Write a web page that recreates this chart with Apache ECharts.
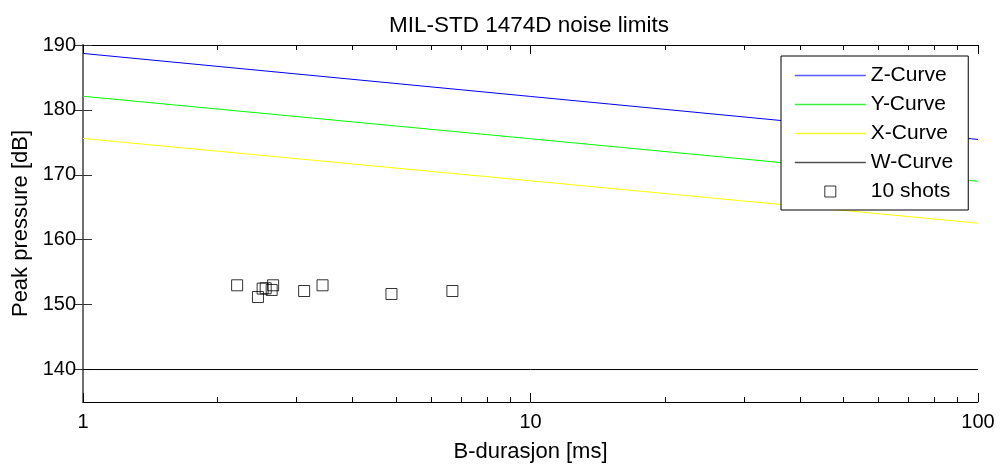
<!DOCTYPE html>
<html>
<head>
<meta charset="utf-8">
<script src="https://cdn.jsdelivr.net/npm/echarts@6/dist/echarts.min.js"></script>
<style>
html,body{margin:0;padding:0;background:#fff;}
#chart{width:1003px;height:468px;}
</style>
</head>
<body>
<div id="chart"></div>
<script>
// ---- data ----
const titleText = 'MIL-STD 1474D noise limits';
const xAxisName = 'B-durasjon [ms]';
const yAxisName = 'Peak pressure [dB]';
const curveNames = ['Z-Curve', 'Y-Curve', 'X-Curve', 'W-Curve'];
const shotsName = '10 shots';
const curveDur = [1, 100];
const zCurve = [188.7, 175.45];
const yCurve = [182.1, 169.0];
const xCurve = [175.6, 162.55];
const wCurve = [140, 140];
const shotsDur = [2.21, 2.46, 2.52, 2.56, 2.64, 2.66, 3.12, 3.43, 4.89, 6.69];
const shotsPeak = [152.98, 151.17, 152.47, 152.52, 152.26, 152.98, 152.10, 152.98, 151.64, 152.10];
const xMajorTicks = [1, 10, 100];
const xMinorTicks = [2, 3, 4, 5, 6, 7, 8, 9, 20, 30, 40, 50, 60, 70, 80, 90];
const yTicks = [140, 150, 160, 170, 180, 190];

// ---- chart ----
const FONT = 'Liberation Sans, Arial, Helvetica, sans-serif';
const curveColors = ['#0000ff', '#00ff00', '#ffff00', '#000000'];
const legendLineColors = ['#5a5aff', '#3cf03c', '#f5f530', '#505050'];
const curveValues = [zCurve, yCurve, xCurve, wCurve];
const pair = (xs, ys) => xs.map((x, i) => [x, ys[i]]);
const minorLog = xMinorTicks.map(v => Math.log10(v));

const chart = echarts.init(document.getElementById('chart'), null, {renderer: 'canvas'});

const series = curveNames.map((n, i) => ({
  name: n,
  type: 'line',
  xAxisIndex: 0,
  yAxisIndex: 0,
  data: pair(curveDur, curveValues[i]),
  symbol: 'none',
  lineStyle: {color: curveColors[i], width: 1},
  itemStyle: {color: curveColors[i]},
  animation: false,
  silent: true
}));
series.push({
  name: shotsName,
  type: 'scatter',
  xAxisIndex: 0,
  yAxisIndex: 0,
  data: pair(shotsDur, shotsPeak),
  symbol: 'rect',
  symbolSize: 11,
  itemStyle: {color: 'rgba(0,0,0,0)', borderColor: '#000', borderWidth: 1},
  animation: false,
  silent: true
});

const squareIcon = 'path://M0,0h10v10h-10z';
const legendData = curveNames.map((n, i) => ({
  name: n,
  itemStyle: {opacity: 0},
  lineStyle: {color: legendLineColors[i], width: 1.6}
}));
legendData.push({
  name: shotsName,
  icon: squareIcon,
  itemStyle: {color: 'rgba(0,0,0,0)', borderColor: '#000', borderWidth: 1}
});

const logAxisBase = {
  type: 'log',
  min: 1,
  max: 100,
  gridIndex: 0,
  splitLine: {show: false},
  axisLine: {show: true, lineStyle: {color: '#000', width: 1}},
  axisTick: {show: true, inside: true, length: 9, lineStyle: {color: '#000'}}
};
const minorAxisBase = {
  type: 'value',
  min: 0,
  max: 2,
  gridIndex: 0,
  splitLine: {show: false},
  axisLine: {show: false},
  axisLabel: {show: false},
  axisTick: {show: true, inside: true, length: 5, customValues: minorLog, lineStyle: {color: '#000'}}
};

const option = {
  backgroundColor: '#fff',
  animation: false,
  title: {
    text: titleText,
    left: 524,
    textAlign: 'center',
    top: 9,
    textStyle: {fontFamily: FONT, fontSize: 22.5, fontWeight: 'normal', color: '#000'}
  },
  legend: {
    orient: 'vertical',
    left: 781,
    top: 56,
    padding: [9, 15, 8, 13],
    itemWidth: 71,
    itemHeight: 11,
    itemGap: 8,
    backgroundColor: '#fff',
    borderColor: '#000',
    borderWidth: 1,
    selectedMode: false,
    data: legendData,
    textStyle: {fontFamily: FONT, fontSize: 21, lineHeight: 20, color: '#000'}
  },
  grid: {left: 83, top: 45, width: 895, height: 358, containLabel: false},
  xAxis: [
    Object.assign({}, logAxisBase, {
      position: 'bottom',
      name: xAxisName,
      nameLocation: 'middle',
      nameGap: 39,
      nameTextStyle: {fontFamily: FONT, fontSize: 22, color: '#000'},
      axisLabel: {show: true, margin: 10, fontFamily: FONT, fontSize: 20, color: '#000',
        formatter: v => String(v)}
    }),
    Object.assign({}, minorAxisBase, {position: 'bottom'}),
    Object.assign({}, logAxisBase, {position: 'top', axisLabel: {show: false}}),
    Object.assign({}, minorAxisBase, {position: 'top'})
  ],
  yAxis: [
    {
      type: 'value',
      position: 'left',
      min: 135,
      max: 190,
      splitLine: {show: false},
      axisLine: {show: true, lineStyle: {color: '#707070', width: 2}},
      axisTick: {show: true, inside: true, length: 9, customValues: yTicks, lineStyle: {color: '#333'}},
      axisLabel: {show: true, customValues: yTicks, margin: 7, fontFamily: FONT, fontSize: 20, color: '#000'},
      name: yAxisName,
      nameLocation: 'middle',
      nameGap: 50,
      nameTextStyle: {fontFamily: FONT, fontSize: 22, color: '#000'}
    },
    {
      type: 'value',
      position: 'right',
      min: 135,
      max: 190,
      splitLine: {show: false},
      axisLine: {show: true, lineStyle: {color: '#707070', width: 2}},
      axisTick: {show: true, inside: true, length: 9, customValues: yTicks, lineStyle: {color: '#333'}},
      axisLabel: {show: false}
    }
  ],
  series: series
};
chart.setOption(option);
</script>
</body>
</html>
